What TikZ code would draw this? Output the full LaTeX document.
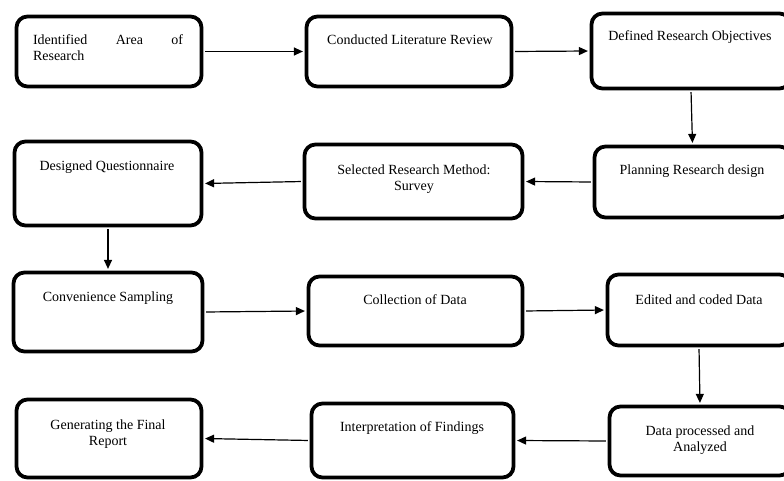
\documentclass[tikz,border=0pt]{standalone}
\usepackage{fontspec}
\setmainfont{Liberation Serif}
\usetikzlibrary{arrows.meta,positioning}
\tikzset{
  stepbox/.style={draw,line width=3.8pt,rounded corners=11pt,inner sep=0pt},
  steptext/.style={inner sep=0pt,anchor=base,font=\fontsize{14}{16}\selectfont,align=center},
  flow/.style={line width=1.2pt,shorten >=1.7pt,shorten <=1.7pt,-{Triangle[length=9pt,width=8pt]}}
}
\begin{document}
\begin{tikzpicture}[x=1pt,y=-1pt]
\useasboundingbox (0,0) rectangle (784,481);
\clip (0,0) rectangle (784,481);
\begin{scope}[every node/.style={stepbox}]
\node[minimum width=185pt,minimum height=70pt] (area) at (109,51.5) {};
\node[minimum width=205pt,minimum height=70pt] (review) at (409,51.5) {};
\node[minimum width=199pt,minimum height=75pt] (objectives) at (691,51) {};
\node[minimum width=196pt,minimum height=71pt] (design) at (692.5,182) {};
\node[minimum width=218pt,minimum height=74pt] (method) at (413.5,181.5) {};
\node[minimum width=187pt,minimum height=84pt] (questionnaire) at (108,183.5) {};
\node[minimum width=189pt,minimum height=79pt] (sampling) at (108,312) {};
\node[minimum width=214pt,minimum height=69pt] (collection) at (415.5,311) {};
\node[minimum width=183pt,minimum height=71pt] (coded) at (699,310) {};
\node[minimum width=181pt,minimum height=69pt] (processed) at (700,441) {};
\node[minimum width=202pt,minimum height=74pt] (findings) at (412.5,440.5) {};
\node[minimum width=185pt,minimum height=78pt] (report) at (109,438.5) {};
\end{scope}
\node[steptext,text width=150pt,align=left] (area-t) at (108,45) {Identified\hfill Area\hfill of\\Research};
\node[steptext] (review-t) at (410,45) {Conducted Literature Review};
\node[steptext] (objectives-t) at (690,41) {Defined Research Objectives};
\node[steptext] (design-t) at (692,175) {Planning Research design};
\node[steptext] (method-t) at (414,190) {Selected Research Method:\\Survey};
\node[steptext] (questionnaire-t) at (107,171) {Designed Questionnaire};
\node[steptext] (sampling-t) at (108,301) {Convenience Sampling};
\node[steptext] (collection-t) at (415,304) {Collection of Data};
\node[steptext] (coded-t) at (699,304) {Edited and coded Data};
\node[steptext] (processed-t) at (700,451) {Data processed and\\Analyzed};
\node[steptext] (findings-t) at (412,431) {Interpretation of Findings};
\node[steptext] (report-t) at (108,445) {Generating the Final\\Report};
\draw[flow] (area.east) -- (review.west);
\draw[flow] (review.east) -- (objectives.west);
\draw[flow] (objectives.south) -- (design.north);
\draw[flow] (design.west) -- (method.east);
\draw[flow] (method.west) -- (questionnaire.east);
\draw[flow] (questionnaire.south) -- (sampling.north);
\draw[flow] (sampling.east) -- (collection.west);
\draw[flow] (collection.east) -- (coded.west);
\draw[flow] (coded.south) -- (processed.north);
\draw[flow] (processed.west) -- (findings.east);
\draw[flow] (findings.west) -- (report.east);
\end{tikzpicture}
\end{document}
